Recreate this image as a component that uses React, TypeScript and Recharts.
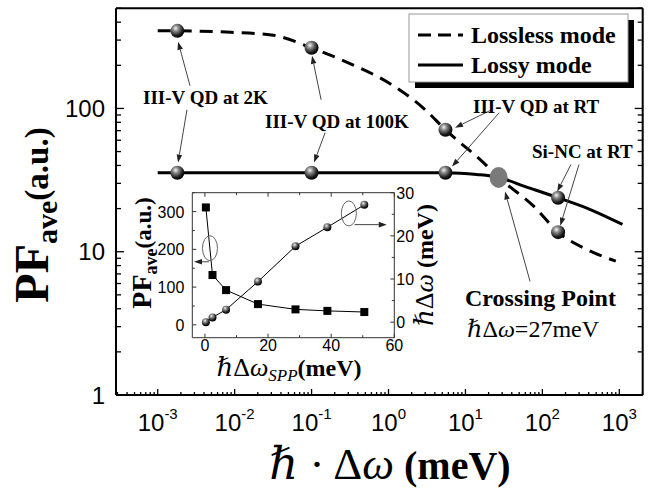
import React from 'react';
import { ComposedChart, Line, Scatter, XAxis, YAxis, ReferenceLine, ReferenceDot } from 'recharts';

// main panel: Purcell factor vs emitter linewidth (log-log)
const losslessX = [0.001, 0.0018, 0.009, 0.03, 0.1, 0.3, 1, 3, 5.5, 17, 27, 77, 160, 420, 900];
const losslessY = [348, 348, 340, 326, 265, 208, 151, 98, 71, 42, 33, 20.8, 13.7, 10.1, 8.6];
const lossyX = [0.001, 0.0018, 0.1, 5.5, 14, 27, 60, 160, 420, 1100];
const lossyY = [35.6, 35.6, 35.6, 35.6, 34.6, 33, 28.5, 23.8, 19.7, 15.5];

// emitters marked on both curves (2K, 100K, III-V RT, Si-NC RT)
const markerX = [0.0018, 0.1, 5.5, 160];
const losslessMarkerY = [348, 265, 71, 13.7];
const lossyMarkerY = [35.6, 35.6, 35.6, 23.8];
const crossingX = [27];
const crossingY = [33];

const xMajor = [0.001, 0.01, 0.1, 1, 10, 100, 1000];
const yMajor = [1, 10, 100];
const X_DOMAIN = [0.000287, 2014];
const Y_DOMAIN = [1, 500];

// inset: PF_ave and linewidth vs SPP linewidth
const insetX = [0.3, 2.4, 6.7, 16.8, 28.7, 38.8, 50.5];
const insetPF = [311, 132, 92, 55, 41, 37, 34];
const insetDw = [0, 1.1, 2.9, 9.4, 17.6, 22, 27.2];
const insetXTicks = [0, 10, 20, 30, 40, 50, 60];
const insetXLabels = [0, 20, 40, 60];
const insetPFTicks = [0, 50, 100, 150, 200, 250, 300, 350];
const insetPFLabels = [0, 100, 200, 300];
const insetDwTicks = [0, 5, 10, 15, 20, 25, 30];
const insetDwLabels = [0, 10, 20, 30];

// annotation arrows, data units: [x1, y1, x2, y2] (head at x2,y2)
const mainArrows = [
  [0.00263, 144, 0.00184, 292],
  [0.0024, 98, 0.00184, 41.9],
  [0.133, 115, 0.1014, 233],
  [0.15, 67.8, 0.1076, 41.9],
  [22, 98, 7.33, 73.4],
  [27.4, 93.3, 6.69, 39.3],
  [235, 40.6, 156, 26.3],
  [299, 40.6, 171, 15.2],
  [69.2, 6.2, 32.7, 26.3],
];

const zip = (xs: number[], ys: number[]) => xs.map((x, i) => ({ x, y: ys[i] }));

const logTicks = (lo: number, hi: number) => {
  const out: number[] = [];
  for (let d = -4; d <= 3; d++) {
    for (let k = 1; k <= 9; k++) {
      const v = +(k * Math.pow(10, d)).toPrecision(6);
      if (v >= lo && v <= hi) out.push(v);
    }
  }
  return out;
};

const isMajor = (v: number) => Math.abs(Math.log10(v) - Math.round(Math.log10(v))) < 1e-6;

const SANS = 'Liberation Sans, Arial, sans-serif';
const SERIF = 'Liberation Serif, DejaVu Serif, serif';

const MainXTick = (p: any) => {
  const v = p.payload.value;
  const major = isMajor(v);
  const e = Math.round(Math.log10(v));
  return (
    <g>
      <line x1={p.x} y1={p.y} x2={p.x} y2={p.y - (major ? 6 : 3)} stroke="#000" strokeWidth={1.3} />
      {major && xMajor.length > 0 && (
        <text x={p.x} y={p.y + 36} textAnchor="middle" fontFamily={SANS} fontSize={24} fill="#000">
          10<tspan dy={-12} fontSize={15}>{e}</tspan>
        </text>
      )}
    </g>
  );
};

const MainYTick = (p: any) => {
  const v = p.payload.value;
  const major = isMajor(v);
  return (
    <g>
      <line x1={p.x} y1={p.y} x2={p.x + (major ? 8 : 5)} y2={p.y} stroke="#000" strokeWidth={1.3} />
      {major && yMajor.includes(v) && (
        <text x={p.x - 11} y={p.y + 8.5} textAnchor="end" fontFamily={SANS} fontSize={24} fill="#000">
          {v}
        </text>
      )}
    </g>
  );
};

const MainRightTick = (p: any) => {
  const major = isMajor(p.payload.value);
  return <line x1={p.x} y1={p.y} x2={p.x - (major ? 8 : 5)} y2={p.y} stroke="#000" strokeWidth={1.3} />;
};

const Ball = ({ cx, cy, r = 7 }: any) => (
  <g>
    <defs>
      <radialGradient id="ball" cx="38%" cy="32%" r="70%">
        <stop offset="0%" stopColor="#f4f4f4" />
        <stop offset="30%" stopColor="#8a8a8a" />
        <stop offset="75%" stopColor="#1a1a1a" />
        <stop offset="100%" stopColor="#000" />
      </radialGradient>
    </defs>
    <circle cx={cx} cy={cy} r={r} fill="url(#ball)" />
  </g>
);

const SmallBall = (p: any) => (p.cx == null ? <g /> : <Ball cx={p.cx} cy={p.cy} r={4} key={p.index} />);

const Square = (p: any) =>
  p.cx == null ? <g /> : <rect key={p.index} x={p.cx - 4} y={p.cy - 4} width={8} height={8} fill="#000" />;

const Crossing = ({ cx, cy }: any) => <ellipse cx={cx} cy={cy} rx={9} ry={10.5} fill="#7a7a7a" />;

const Arrow = (p: any) => {
  const { x1, y1, x2, y2 } = p;
  const a = Math.atan2(y2 - y1, x2 - x1);
  const L = 8;
  const W = 2.8;
  const bx = x2 - L * Math.cos(a);
  const by = y2 - L * Math.sin(a);
  const pts = `${x2},${y2} ${bx + W * Math.sin(a)},${by - W * Math.cos(a)} ${bx - W * Math.sin(a)},${by + W * Math.cos(a)}`;
  return (
    <g>
      <line x1={x1} y1={y1} x2={bx} y2={by} stroke="#444" strokeWidth={1} />
      <polygon points={pts} fill="#222" />
    </g>
  );
};

const Ring = ({ cx, cy }: any) => <ellipse cx={cx} cy={cy} rx={7.5} ry={12.5} fill="none" stroke="#666" strokeWidth={1} />;

const InsetXTick = (p: any) => {
  const v = p.payload.value;
  return (
    <g>
      <line x1={p.x} y1={p.y} x2={p.x} y2={p.y - (insetXLabels.includes(v) ? 4 : 2.5)} stroke="#333" />
      {insetXLabels.includes(v) && (
        <text x={p.x} y={p.y + 13} textAnchor="middle" fontFamily={SANS} fontSize={16} fill="#000">
          {v}
        </text>
      )}
    </g>
  );
};

const InsetTopTick = (p: any) => (
  <line x1={p.x} y1={p.y} x2={p.x} y2={p.y + (insetXLabels.includes(p.payload.value) ? 4 : 2.5)} stroke="#333" />
);

const InsetPFTick = (p: any) => {
  const v = p.payload.value;
  return (
    <g>
      <line x1={p.x} y1={p.y} x2={p.x + (insetPFLabels.includes(v) ? 4 : 2.5)} y2={p.y} stroke="#333" />
      {insetPFLabels.includes(v) && (
        <text x={p.x - 8} y={p.y + 6} textAnchor="end" fontFamily={SANS} fontSize={16} fill="#000">
          {v}
        </text>
      )}
    </g>
  );
};

const InsetDwTick = (p: any) => {
  const v = p.payload.value;
  return (
    <g>
      <line x1={p.x} y1={p.y} x2={p.x - (insetDwLabels.includes(v) ? 4 : 2.5)} y2={p.y} stroke="#333" />
      {insetDwLabels.includes(v) && (
        <text x={p.x + 2} y={p.y + 6} textAnchor="start" fontFamily={SANS} fontSize={16} fill="#000">
          {v}
        </text>
      )}
    </g>
  );
};

// axes get a 1px slot (0 is not drawn); margins absorb it
const AX = 1;

function Inset() {
  const pf = zip(insetX, insetPF);
  const dw = zip(insetX, insetDw);
  return (
    <div style={{ position: 'absolute', left: 142, top: 172 }}>
      <ComposedChart width={300} height={215}
        margin={{ top: 20.7 - AX, right: 47.7 - AX, bottom: 49.3 - AX, left: 50.3 - AX }}>
        <XAxis dataKey="x" type="number" domain={[-4, 60]} allowDataOverflow ticks={insetXTicks} interval={0}
          height={AX} tickSize={0} tickMargin={0} tickLine={false} tick={<InsetXTick />} axisLine={{ stroke: '#333' }} />
        <XAxis xAxisId="t" dataKey="x" type="number" orientation="top" domain={[-4, 60]} allowDataOverflow ticks={insetXTicks}
          interval={0} height={AX} tickSize={0} tickMargin={0} tickLine={false} tick={<InsetTopTick />} axisLine={{ stroke: '#333' }} />
        <YAxis yAxisId="pf" type="number" domain={[-34, 350]} allowDataOverflow ticks={insetPFTicks} interval={0}
          width={AX} tickSize={0} tickMargin={0} tickLine={false} tick={<InsetPFTick />} axisLine={{ stroke: '#333' }} />
        <YAxis yAxisId="dw" orientation="right" type="number" domain={[-3.6, 30]} allowDataOverflow ticks={insetDwTicks} interval={0}
          width={AX} tickSize={0} tickMargin={0} tickLine={false} tick={<InsetDwTick />} axisLine={{ stroke: '#333' }} />
        <Line yAxisId="pf" data={pf} dataKey="y" type="linear" stroke="#000" strokeWidth={1} dot={Square} isAnimationActive={false} />
        <Line yAxisId="dw" data={dw} dataKey="y" type="linear" stroke="#000" strokeWidth={1} dot={SmallBall} isAnimationActive={false} />
        <ReferenceDot yAxisId="pf" x={1.6} y={203} shape={Ring} ifOverflow="visible" />
        <ReferenceDot yAxisId="dw" x={45.6} y={25.2} shape={Ring} ifOverflow="visible" />
        <ReferenceLine yAxisId="pf" segment={[{ x: 1.26, y: 167 }, { x: -3.47, y: 167 }]} shape={Arrow} ifOverflow="visible" />
        <ReferenceLine yAxisId="dw" segment={[{ x: 47.4, y: 22.6 }, { x: 57.6, y: 22.6 }]} shape={Arrow} ifOverflow="visible" />
      </ComposedChart>
    </div>
  );
}

export default function App() {
  const xTicks = logTicks(X_DOMAIN[0], X_DOMAIN[1]);
  const yTicks = logTicks(Y_DOMAIN[0], Y_DOMAIN[1]);
  const lossless = zip(losslessX, losslessY);
  const lossy = zip(lossyX, lossyY);
  const markersTop = zip(markerX, losslessMarkerY);
  const markersBottom = zip(markerX, lossyMarkerY);
  const crossing = zip(crossingX, crossingY);

  const bold = { fontFamily: SERIF, fontWeight: 'bold' as const, fill: '#000' };

  return (
    <div style={{ position: 'relative', width: 651, height: 489, background: '#fff' }}>
      <style>{'body{margin:0}'}</style>
      <ComposedChart width={651} height={489} margin={{ top: 8.3 - AX, right: 8.3 - AX, bottom: 94 - AX, left: 116 - AX }}>
        <XAxis dataKey="x" type="number" scale="log" domain={X_DOMAIN} allowDataOverflow ticks={xTicks} interval={0}
          height={AX} tickSize={0} tickMargin={0} tickLine={false} tick={<MainXTick />} axisLine={{ stroke: '#000', strokeWidth: 2 }} />
        <XAxis xAxisId="top" dataKey="x" type="number" scale="log" orientation="top" domain={X_DOMAIN} allowDataOverflow
          height={AX} tick={false} tickLine={false} axisLine={{ stroke: '#000', strokeWidth: 2 }} />
        <YAxis type="number" scale="log" domain={Y_DOMAIN} allowDataOverflow ticks={yTicks} interval={0}
          width={AX} tickSize={0} tickMargin={0} tickLine={false} tick={<MainYTick />} axisLine={{ stroke: '#000', strokeWidth: 2 }} />
        <YAxis yAxisId="right" orientation="right" type="number" scale="log" domain={Y_DOMAIN} allowDataOverflow ticks={yTicks} interval={0}
          width={AX} tickSize={0} tickMargin={0} tickLine={false} tick={<MainRightTick />} axisLine={{ stroke: '#000', strokeWidth: 2 }} />

        <Line data={lossless} dataKey="y" type="monotone" stroke="#000" strokeWidth={3} strokeDasharray="13 8" dot={false} isAnimationActive={false} />
        <Line data={lossy} dataKey="y" type="monotone" stroke="#000" strokeWidth={3} dot={false} isAnimationActive={false} />

        {mainArrows.map((a, i) => (
          <ReferenceLine key={i} segment={[{ x: a[0], y: a[1] }, { x: a[2], y: a[3] }]} shape={Arrow} ifOverflow="visible" />
        ))}

        <Scatter data={markersTop} dataKey="y" shape={Ball} isAnimationActive={false} />
        <Scatter data={markersBottom} dataKey="y" shape={Ball} isAnimationActive={false} />
        <Scatter data={crossing} dataKey="y" shape={Crossing} isAnimationActive={false} />
      </ComposedChart>

      <Inset />

      <svg width={651} height={489} style={{ position: 'absolute', left: 0, top: 0, pointerEvents: 'none' }}>
        {/* main axis titles */}
        <text transform="translate(48,215) rotate(-90)" textAnchor="middle" {...bold}>
          <tspan fontSize={48}>PF</tspan>
          <tspan fontSize={30} dy={9}>ave</tspan>
          <tspan fontSize={33} dy={-9}>(a.u.)</tspan>
        </text>
        <text x={390} y={479} textAnchor="middle" fontFamily={SERIF} fill="#000">
          <tspan fontSize={45} fontStyle="italic">ℏ</tspan>
          <tspan fontSize={45}> · Δ</tspan>
          <tspan fontSize={45} fontStyle="italic">ω</tspan>
          <tspan fontSize={40} fontWeight="bold"> (meV)</tspan>
        </text>

        {/* annotations */}
        <text x={143} y={104} fontSize={19} {...bold}>III-V QD at 2K</text>
        <text x={265} y={128} fontSize={19} {...bold}>III-V QD at 100K</text>
        <text x={473} y={113} fontSize={19} {...bold}>III-V QD at RT</text>
        <text x={532} y={158} fontSize={19} {...bold}>Si-NC at RT</text>
        <text x={465} y={306} fontSize={24} {...bold}>Crossing Point</text>
        <text x={467} y={337} fontSize={24} fontFamily={SERIF} fill="#000">
          <tspan fontStyle="italic">ℏ</tspan>Δ<tspan fontStyle="italic">ω</tspan>=27meV
        </text>

        {/* legend */}
        <rect x={415} y={20} width={219} height={68} fill="#000" />
        <rect x={409} y={14} width={219} height={68} fill="#fff" stroke="#999" strokeWidth={1} />
        <line x1={418} y1={35} x2={463} y2={35} stroke="#000" strokeWidth={3} strokeDasharray="13 7" />
        <line x1={418} y1={65} x2={463} y2={65} stroke="#000" strokeWidth={3} />
        <text x={471} y={43} fontSize={24} {...bold}>Lossless mode</text>
        <text x={471} y={73} fontSize={24} {...bold}>Lossy mode</text>

        {/* inset axis titles */}
        <text transform="translate(151,253) rotate(-90)" textAnchor="middle" {...bold}>
          <tspan fontSize={28}>PF</tspan>
          <tspan fontSize={18} dy={6}>ave</tspan>
          <tspan fontSize={23} dy={-6}>(a.u.)</tspan>
        </text>
        <text transform="translate(433,265) rotate(-90)" textAnchor="middle" fontFamily={SERIF} fill="#000">
          <tspan fontSize={26} fontStyle="italic">ℏ</tspan>
          <tspan fontSize={26}>Δ</tspan>
          <tspan fontSize={26} fontStyle="italic">ω</tspan>
          <tspan fontSize={24} fontWeight="bold"> (meV)</tspan>
        </text>
        <text x={289} y={376} textAnchor="middle" fontFamily={SERIF} fill="#000">
          <tspan fontSize={26} fontStyle="italic">ℏ</tspan>
          <tspan fontSize={26}>Δ</tspan>
          <tspan fontSize={26} fontStyle="italic">ω</tspan>
          <tspan fontSize={17} fontStyle="italic" dy={5}>SPP</tspan>
          <tspan fontSize={24} fontWeight="bold" dy={-5}>(meV)</tspan>
        </text>
      </svg>
    </div>
  );
}
